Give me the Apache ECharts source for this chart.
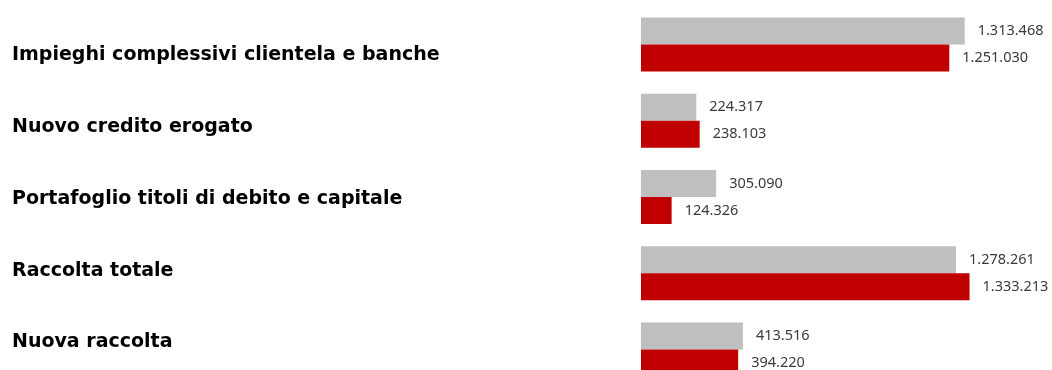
<!DOCTYPE html>
<html>
<head>
<meta charset="utf-8">
<script src="https://cdn.jsdelivr.net/npm/echarts@6/dist/echarts.min.js"></script>
<style>
  html, body { margin: 0; padding: 0; background: #ffffff; }
  #chart { width: 1052px; height: 370px; }
</style>
</head>
<body>
<div id="chart"></div>
<script>
// Voci di bilancio e valori (migliaia di euro)
const categories = [
  'Impieghi complessivi clientela e banche',
  'Nuovo credito erogato',
  'Portafoglio titoli di debito e capitale',
  'Raccolta totale',
  'Nuova raccolta'
];
const previousValues = [1313468, 224317, 305090, 1278261, 413516];
const currentValues  = [1251030, 238103, 124326, 1333213, 394220];

// Formato italiano: separatore delle migliaia con il punto
function fmt(v) {
  return String(v).replace(/\B(?=(\d{3})+(?!\d))/g, '.');
}

const valueLabel = {
  show: true,
  position: 'right',
  distance: 13,
  fontFamily: 'Noto Sans',
  fontSize: 14.5,
  color: '#3a3a3a',
  formatter: p => fmt(p.value)
};

const chart = echarts.init(document.getElementById('chart'), null, { renderer: 'canvas' });
chart.setOption({
  animation: false,
  backgroundColor: '#ffffff',
  grid: [
    // barre: righe centrate da 45 a 350
    { left: 641, width: 345, top: 44.5, height: 305 },
    // etichette delle voci
    { left: 12, width: 10, top: 55.5, height: 287 }
  ],
  xAxis: [
    { type: 'value', gridIndex: 0, min: 0, max: 1400000, show: false },
    { type: 'value', gridIndex: 1, show: false }
  ],
  yAxis: [
    {
      type: 'category', gridIndex: 0, data: categories, inverse: true, boundaryGap: false,
      axisLine: { show: false }, axisTick: { show: false }, axisLabel: { show: false },
      splitLine: { show: false }
    },
    {
      type: 'category', gridIndex: 1, data: categories, inverse: true, boundaryGap: false,
      axisLine: { show: false }, axisTick: { show: false }, splitLine: { show: false },
      axisLabel: {
        align: 'left', margin: 0,
        fontFamily: 'DejaVu Sans', fontWeight: 'bold', fontSize: 19, color: '#000000'
      }
    }
  ],
  series: [
    {
      name: 'precedente', type: 'bar', xAxisIndex: 0, yAxisIndex: 0,
      data: previousValues, barWidth: 27, barGap: '0%',
      itemStyle: { color: '#bfbfbf' }, label: valueLabel
    },
    {
      name: 'attuale', type: 'bar', xAxisIndex: 0, yAxisIndex: 0,
      data: currentValues, barWidth: 27, barGap: '0%',
      itemStyle: { color: '#c00000' }, label: valueLabel
    }
  ]
});
</script>
</body>
</html>
